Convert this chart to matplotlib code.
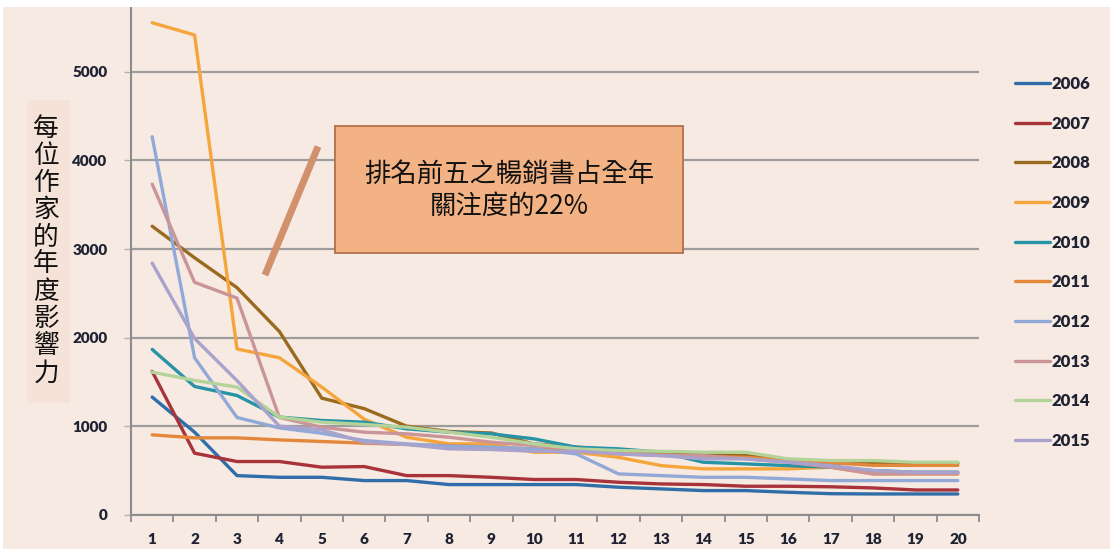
import matplotlib
matplotlib.use("Agg")
import matplotlib.pyplot as plt
from matplotlib.patches import Rectangle
from matplotlib.lines import Line2D

plt.rcParams["font.family"] = ["Lato", "Noto Sans CJK TC", "DejaVu Sans"]

# rank of the author within each year
ranks = list(range(1, 21))
years = ["2006", "2007", "2008", "2009", "2010", "2011", "2012", "2013", "2014", "2015"]

v2006 = [1330, 934, 444, 425, 425, 388, 388, 343, 343, 343,
         343, 313, 294, 275, 275, 256, 240, 237, 237, 237]
v2007 = [1620, 697, 603, 603, 539, 546, 444, 444, 425, 400,
         400, 369, 350, 343, 324, 324, 318, 305, 282, 282]
v2008 = [3258, 2902, 2565, 2070, 1318, 1200, 1002, 942, 925, 802,
         765, 727, 708, 689, 670, 614, 584, 584, 584, 584]
v2009 = [5554, 5416, 1873, 1774, 1443, 1081, 877, 802, 802, 708,
         708, 650, 557, 520, 520, 520, 539, 463, 463, 463]
v2010 = [1868, 1450, 1348, 1104, 1066, 1047, 972, 934, 915, 859,
         765, 746, 708, 595, 576, 557, 539, 501, 482, 482]
v2011 = [904, 870, 870, 847, 829, 810, 795, 783, 765, 746,
         727, 700, 680, 660, 650, 620, 590, 560, 560, 560]
v2012 = [4268, 1774, 1100, 982, 922, 840, 802, 776, 765, 746,
         689, 463, 444, 425, 425, 407, 388, 388, 388, 388]
v2013 = [3733, 2625, 2447, 1100, 990, 934, 915, 877, 821, 783,
         746, 689, 670, 670, 633, 595, 539, 463, 463, 463]
v2014 = [1612, 1518, 1443, 1104, 1047, 1021, 990, 934, 877, 802,
         746, 727, 719, 708, 708, 633, 614, 614, 595, 595]
v2015 = [2842, 1991, 1516, 1002, 962, 821, 795, 746, 738, 719,
         719, 689, 670, 633, 633, 595, 557, 501, 482, 482]

series = [v2006, v2007, v2008, v2009, v2010, v2011, v2012, v2013, v2014, v2015]
colors = ["#2f6ea8", "#a8333a", "#9a6a1e", "#f5a53c", "#2694a6",
          "#e3883a", "#91a9d6", "#c99599", "#b4d39a", "#a8a2cd"]

bg = "#f7eae2"
fig = plt.figure(figsize=(11.1, 5.49), dpi=100, facecolor=bg)
ax = fig.add_axes([0.118, 0.062, 0.764, 0.925], facecolor=bg)

for yr, vals, c in zip(years, series, colors):
    ax.plot(ranks, vals, color=c, lw=2.4, label=yr, solid_capstyle="round")

ax.set_xlim(0.5, 20.5)
ax.set_ylim(0, 5730)
ax.set_yticks([0, 1000, 2000, 3000, 4000, 5000])
ax.set_xticks(ranks)
ax.set_xticks([r + 0.5 for r in range(0, 21)], minor=True)
ax.yaxis.grid(True, color="#9c9c9c", lw=1.6)
ax.set_axisbelow(True)

for side in ["top", "right"]:
    ax.spines[side].set_visible(False)
for side in ["left", "bottom"]:
    ax.spines[side].set_color("#8c8c8c")
    ax.spines[side].set_linewidth(1.5)

ax.tick_params(axis="x", which="major", length=0, pad=13)
ax.tick_params(axis="x", which="minor", length=5, width=1.3, color="#8c8c8c")
ax.tick_params(axis="y", length=5, width=1.0, color="#b0b0b0", pad=12)
for lab in ax.get_xticklabels() + ax.get_yticklabels():
    lab.set_fontsize(11)
    lab.set_fontweight("heavy")
    lab.set_color("#1e2232")

leg = ax.legend(loc="upper left", bbox_to_anchor=(0.907, 0.877),
                bbox_transform=fig.transFigure, frameon=False,
                handlelength=2.1, handletextpad=0.1, labelspacing=1.42,
                borderpad=0, prop={"family": "Lato", "weight": "heavy", "size": 12})
for t in leg.get_texts():
    t.set_color("#1e2232")

# white strips along the top and left edges
fig.patches.append(Rectangle((0, 0.987), 1, 0.013, transform=fig.transFigure,
                             facecolor="white", edgecolor="none", zorder=0))
fig.patches.append(Rectangle((0, 0), 0.003, 1, transform=fig.transFigure,
                             facecolor="white", edgecolor="none", zorder=0))

# y label, one character per line on a soft panel
fig.patches.append(Rectangle((0.024, 0.266), 0.039, 0.552, transform=fig.transFigure,
                             facecolor="#f5e2d8", edgecolor="none", zorder=0))
fig.text(0.0415, 0.543, "\n".join("每位作家的年度影響力"), ha="center", va="center",
         fontsize=18.5, linespacing=1.06, fontweight="medium",
         family=["Noto Sans CJK TC", "DejaVu Sans"], color="#111111")

# callout stroke and box
fig.lines.append(Line2D([0.2387, 0.2865], [0.499, 0.733], transform=fig.transFigure,
                        color="#d0916c", lw=5, solid_capstyle="butt"))
fig.patches.append(Rectangle((0.302, 0.539), 0.3135, 0.231, transform=fig.transFigure,
                             facecolor="#f3b283", edgecolor="#b0704a", lw=1.3, zorder=3))
fig.text(0.4586, 0.654, "排名前五之暢銷書占全年\n關注度的22%", ha="center", va="center",
         fontsize=19, linespacing=1.25, fontweight="medium",
         family=["Noto Sans CJK TC", "DejaVu Sans"], color="#111111", zorder=4)

fig.savefig("out.png", dpi=100, facecolor=bg)
